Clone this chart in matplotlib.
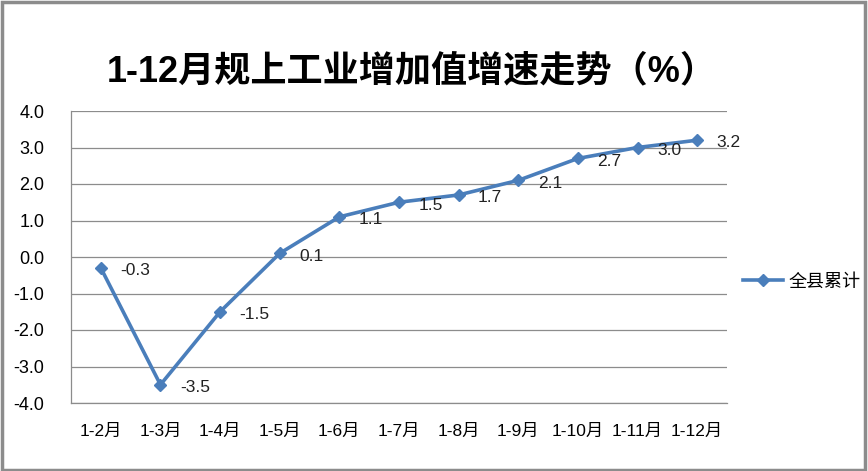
import matplotlib
matplotlib.use('Agg')
import matplotlib.pyplot as plt
from matplotlib.patches import Rectangle

plt.rcParams['font.family'] = ['Liberation Sans', 'Noto Sans CJK SC', 'DejaVu Sans']

months = ['1-2月', '1-3月', '1-4月', '1-5月', '1-6月', '1-7月', '1-8月',
          '1-9月', '1-10月', '1-11月', '1-12月']
growth = [-0.3, -3.5, -1.5, 0.1, 1.1, 1.5, 1.7, 2.1, 2.7, 3.0, 3.2]
yticks = [4.0, 3.0, 2.0, 1.0, 0.0, -1.0, -2.0, -3.0, -4.0]
series_name = '全县累计'
title = '1-12月规上工业增加值增速走势（%）'

fig = plt.figure(figsize=(8.68, 4.71), dpi=100)
ax = fig.add_axes([71 / 868, 1 - 403 / 471, (727 - 71) / 868, (403 - 111) / 471])

x = list(range(len(months)))
ax.plot(x, growth, color='#4A7EBB', lw=2.6, marker='D', ms=6,
        markeredgecolor='#4A7EBB', label=series_name, zorder=3)

# 数据标签放在点的右侧
for xi, v in zip(x, growth):
    ax.annotate('%.1f' % v, (xi, v), xytext=(14, -2), textcoords='offset points',
                ha='left', va='center', fontsize=12.5, color='#222222')

ax.set_xlim(-0.5, len(months) - 0.5)
ax.set_ylim(-4, 4)
ax.set_yticks(yticks)
ax.set_yticklabels(['%.1f' % t for t in yticks], fontsize=13)
ax.set_xticks(x)
ax.set_xticklabels(months, fontsize=12.5)
ax.tick_params(axis='both', length=0)
ax.tick_params(axis='y', pad=19)
ax.tick_params(axis='x', pad=15)
ax.grid(axis='y', color='#8c8c8c', lw=0.9)
ax.set_axisbelow(True)
for s in ['top', 'right']:
    ax.spines[s].set_visible(False)
for s in ['left', 'bottom']:
    ax.spines[s].set_color('#8c8c8c')
    ax.spines[s].set_linewidth(0.9)

fig.text(412 / 868, 1 - 72 / 471, title, ha='center', va='center',
         fontsize=26, fontweight='bold')

ax.legend(loc='center left', bbox_to_anchor=(1.0, 0.414), frameon=False,
          fontsize=13, handlelength=2.2, handletextpad=0.3)

# 外框
fig.patches.append(Rectangle((0.002, 0.003), 0.995, 0.993, transform=fig.transFigure,
                             fill=False, edgecolor='#8c8c8c', lw=2.5))

fig.savefig('out.png', dpi=100)
